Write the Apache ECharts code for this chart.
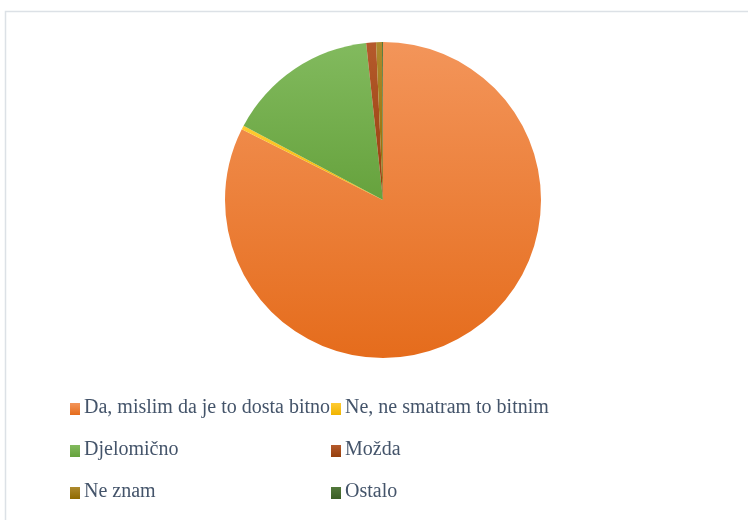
<!DOCTYPE html>
<html>
<head>
<meta charset="utf-8">
<script src="https://cdn.jsdelivr.net/npm/echarts@6/dist/echarts.min.js"></script>
<style>
  html, body { margin: 0; padding: 0; background: #fff; }
  #chart { width: 748px; height: 520px; }
</style>
</head>
<body>
<div id="chart"></div>
<script>
// odgovori (postotak)
var categories = ['Da, mislim da je to dosta bitno', 'Ne, ne smatram to bitnim', 'Djelomično', 'Možda', 'Ne znam', 'Ostalo'];
var values = [82.4, 0.4, 15.5, 1.0, 0.6, 0.1];
// boje: [gore, dolje]
var colors = [
  ['#F3955A', '#E56C1C'],
  ['#FFCB33', '#F0B400'],
  ['#82BA5E', '#66A23D'],
  ['#B55A2C', '#953F0C'],
  ['#AD8A2E', '#8F6A00'],
  ['#52783A', '#3B5E25']
];

function grad(c) {
  return new echarts.graphic.LinearGradient(0, 0, 0, 1, [
    { offset: 0, color: c[0] },
    { offset: 1, color: c[1] }
  ]);
}

var chart = echarts.init(document.getElementById('chart'));

var pieData = categories.map(function (name, i) {
  return { name: name, value: values[i], itemStyle: { color: grad(colors[i]) } };
});

// legenda u dva stupca
var legendEls = [];
categories.forEach(function (name, i) {
  var x = i % 2 === 0 ? 70 : 331;
  var y = 409 + Math.floor(i / 2) * 42;
  legendEls.push({
    type: 'rect',
    left: x,
    top: y - 6,
    shape: { width: 10, height: 12 },
    style: { fill: grad(colors[i]) }
  });
  legendEls.push({
    type: 'text',
    left: x + 14,
    top: y - 11,
    style: {
      text: name,
      font: '20px "Liberation Serif"',
      fill: '#44546A'
    }
  });
});

var option = {
  animation: false,
  graphic: [{
    type: 'rect',
    shape: { x: 5.5, y: 11.5, width: 800, height: 600 },
    style: { fill: 'none', stroke: '#DCE1E6', lineWidth: 1.5 },
    silent: true
  }].concat(legendEls),
  series: [{
    type: 'pie',
    center: [383, 200],
    radius: 158,
    startAngle: 90,
    clockwise: true,
    label: { show: false },
    labelLine: { show: false },
    data: pieData
  }]
};

chart.setOption(option);
</script>
</body>
</html>
